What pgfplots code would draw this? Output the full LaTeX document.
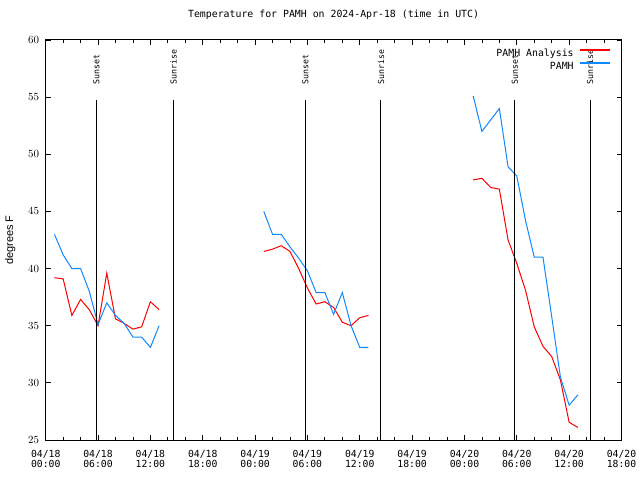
\documentclass[border=0pt]{standalone}
\usepackage{pgfplots}
\pgfplotsset{compat=1.18}
\usepackage{fontspec}
\setmainfont{DejaVu Sans Mono}
\newfontfamily\sansf{Liberation Sans}
\definecolor{obsblue}{RGB}{16,136,255}
\definecolor{anared}{RGB}{250,0,0}
\begin{document}
\begin{tikzpicture}
\begin{axis}[
  at={(0,0)}, anchor=south west,
  scale only axis, width=575.8bp, height=400bp,
  xmin=0, xmax=66, ymin=25, ymax=60,
  xtick={0,6,...,66}, minor x tick num=2,
  ytick={25,30,...,60},
  tick align=inside,
  major tick length=5bp, minor tick length=3bp,
  axis line style={line width=1bp},
  every tick/.style={black, line width=0.8bp},
  xticklabels={{04/18\\00:00},{04/18\\06:00},{04/18\\12:00},{04/18\\18:00},{04/19\\00:00},{04/19\\06:00},{04/19\\12:00},{04/19\\18:00},{04/20\\00:00},{04/20\\06:00},{04/20\\12:00},{04/20\\18:00}},
  xticklabel style={align=center, font=\fontsize{9.8}{10}\selectfont, inner sep=0pt, anchor=north, yshift=-10.5bp},
  yticklabel style={font=\sansf\fontsize{11}{12}\selectfont, inner sep=0pt, anchor=east, xshift=-6.4bp},
  ylabel={degrees F},
  ylabel style={font=\sansf\fontsize{11}{12}\selectfont, at={(axis description cs:-0.0615,0.5)}, anchor=center},
  title={Temperature for PAMH on 2024-Apr-18 (time in UTC)},
  title style={font=\fontsize{9.9}{12}\selectfont, at={(axis description cs:0.5,1.04875)}, anchor=center},
  legend plot pos=right,
  legend cell align=right,
  legend style={at={(axis description cs:0.98,0.979)}, anchor=north east, draw=none, fill=none,
    inner sep=0pt, font=\fontsize{9.9}{12}\selectfont, column sep=6.7bp, row sep=3.5bp,
    nodes={inner sep=0pt, text height=7bp, text depth=2bp}},
]
\addlegendimage{legend image code/.code={\fill[anared] (0bp,3.7bp) rectangle (29bp,4.8bp);}}
\addlegendentry{PAMH Analysis}
\addlegendimage{legend image code/.code={\fill[obsblue] (0bp,3.7bp) rectangle (29bp,4.8bp);}}
\addlegendentry{PAMH}
% Analysis (red)
\addplot[anared, line width=1bp, forget plot] coordinates {
(1,39.2) (2,39.1) (3,35.9) (4,37.3) (5,36.4) (6,35.0) (7,39.6) (8,35.6) (9,35.2) (10,34.7) (11,34.9) (12,37.1) (13,36.4)};
\addplot[anared, line width=1bp, forget plot] coordinates {
(25,41.5) (26,41.7) (27,42.0) (28,41.5) (29,40.0) (30,38.3) (31,36.9) (32,37.1) (33,36.6) (34,35.3) (35,35.0) (36,35.7) (37,35.9)};
\addplot[anared, line width=1bp, forget plot] coordinates {
(49,47.75) (50,47.9) (51,47.1) (52,46.95) (53,42.5) (54,40.45) (55,38.1) (56,34.9) (57,33.2) (58,32.3) (59,30.25) (60,26.55) (61,26.1)};
% Observations (blue)
\addplot[obsblue, line width=1bp, forget plot] coordinates {
(1,43.0) (2,41.2) (3,40.0) (4,40.0) (5,38.0) (6,35.1) (7,37.0) (8,35.9) (9,35.2) (10,34.0) (11,34.0) (12,33.1) (13,35.0)};
\addplot[obsblue, line width=1bp, forget plot] coordinates {
(25,45.0) (26,43.0) (27,43.0) (28,41.9) (29,40.9) (30,39.8) (31,37.9) (32,37.9) (33,36.0) (34,37.9) (35,35.0) (36,33.1) (37,33.1)};
\addplot[obsblue, line width=1bp, forget plot] coordinates {
(49,55.1) (50,52.0) (51,53.0) (52,54.0) (53,48.9) (54,48.1) (55,44.2) (56,41.0) (57,41.0) (58,35.8) (59,30.5) (60,28.05) (61,28.95)};
% Sunset / Sunrise lines
\addplot[black, line width=1bp, forget plot] coordinates {(5.82,25) (5.82,54.75)};
\addplot[black, line width=1bp, forget plot] coordinates {(14.65,25) (14.65,54.75)};
\addplot[black, line width=1bp, forget plot] coordinates {(29.77,25) (29.77,54.75)};
\addplot[black, line width=1bp, forget plot] coordinates {(38.43,25) (38.43,54.75)};
\addplot[black, line width=1bp, forget plot] coordinates {(53.79,25) (53.79,54.75)};
\addplot[black, line width=1bp, forget plot] coordinates {(62.39,25) (62.39,54.75)};
\node[rotate=90, anchor=west, inner sep=0pt, font=\fontsize{8.3}{9}\selectfont] at (axis cs:5.82,56.1) {Sunset};
\node[rotate=90, anchor=west, inner sep=0pt, font=\fontsize{8.3}{9}\selectfont] at (axis cs:14.65,56.1) {Sunrise};
\node[rotate=90, anchor=west, inner sep=0pt, font=\fontsize{8.3}{9}\selectfont] at (axis cs:29.77,56.1) {Sunset};
\node[rotate=90, anchor=west, inner sep=0pt, font=\fontsize{8.3}{9}\selectfont] at (axis cs:38.43,56.1) {Sunrise};
\node[rotate=90, anchor=west, inner sep=0pt, font=\fontsize{8.3}{9}\selectfont] at (axis cs:53.79,56.1) {Sunset};
\node[rotate=90, anchor=west, inner sep=0pt, font=\fontsize{8.3}{9}\selectfont] at (axis cs:62.39,56.1) {Sunrise};
\end{axis}
\path[use as bounding box] (-45.7bp,-40bp) rectangle (594.3bp,440bp);
\end{tikzpicture}
\end{document}
